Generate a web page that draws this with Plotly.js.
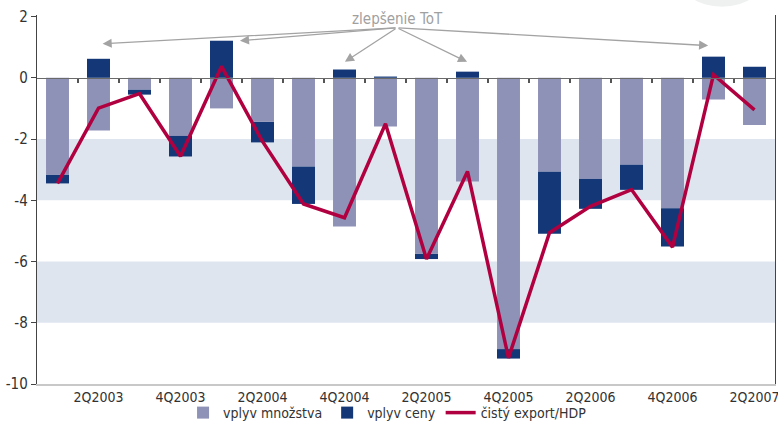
<!DOCTYPE html>
<html>
<head>
<meta charset="utf-8">
<script src="https://cdn.plot.ly/plotly-3.0.1.min.js"></script>
<style>html,body{margin:0;padding:0;background:#fff;}#chart{width:778px;height:426px;}</style>
</head>
<body>
<div id="chart"></div>
<script>
var quarters = ["1Q2003","2Q2003","3Q2003","4Q2003","1Q2004","2Q2004","3Q2004","4Q2004","1Q2005","2Q2005","3Q2005","4Q2005","1Q2006","2Q2006","3Q2006","4Q2006","1Q2007","2Q2007"];
var volumeEffect = [-3.17,-1.72,-0.39,-1.90,-1.00,-1.44,-2.90,-4.86,-1.59,-5.75,-3.39,-8.86,-3.07,-3.30,-2.84,-4.26,-0.71,-1.54];
var priceEffect = [-0.28,0.62,-0.16,-0.67,1.21,-0.67,-1.22,0.27,0.04,-0.17,0.20,-0.31,-2.02,-0.98,-0.82,-1.25,0.69,0.36];
var netExport = [-3.45,-0.99,-0.52,-2.56,0.37,-2.08,-4.12,-4.57,-1.50,-5.92,-3.06,-9.15,-5.06,-4.20,-3.65,-5.53,0.10,-1.05];
var xTickLabels = ["2Q2003","4Q2003","2Q2004","4Q2004","2Q2005","4Q2005","2Q2006","4Q2006","2Q2007"];
var yTickVals = [-10,-8,-6,-4,-2,0,2];
var yTickText = ["-10","-8","-6","-4","-2","0","2"];
var seriesNames = ["vplyv množstva","vplyv ceny","čistý export/HDP"];
var annotationText = "zlepšenie ToT";
var arrowTargets = [[1.1,1.11],[4.45,1.21],[7.01,0.52],[9.99,0.52],[15.87,1.05]];
var boundaryTicks = [];
for (var i = 0; i < quarters.length - 1; i++) boundaryTicks.push(i + 0.5);

var FONT = '"Liberation Sans Narrow","DejaVu Sans Condensed","Roboto Condensed",sans-serif';

var traces = [
  {type:'bar', x:quarters, y:volumeEffect, name:seriesNames[0], marker:{color:'#8f92b7'}, hoverinfo:'skip'},
  {type:'bar', x:quarters, y:priceEffect, name:seriesNames[1], marker:{color:'#143877'}, hoverinfo:'skip'},
  {type:'scatter', mode:'lines', x:quarters, y:netExport, name:seriesNames[2], line:{color:'#b1003f', width:3.5}, hoverinfo:'skip'},
  {type:'scatter', mode:'markers', x:[0], y:[0], xaxis:'x2', yaxis:'y', marker:{opacity:0}, showlegend:false, hoverinfo:'skip'}
];

var annotations = [{
  xref:'paper', yref:'paper', x:(397-37)/738, y:1 - (19-15.3)/368.7, xanchor:'center', yanchor:'middle',
  text:annotationText, showarrow:false, font:{family:FONT, size:15, color:'#a0a0a0'}
}];
arrowTargets.forEach(function(t){
  var tipPx = 57.5 + t[0]*41;
  var tipPy = 78 - t[1]*30.6;
  annotations.push({
    xref:'x', yref:'y', x:t[0], y:t[1], text:'', showarrow:true,
    ax: 397 - tipPx, ay: 28 - tipPy,
    arrowhead:2, arrowsize:1.4, arrowwidth:1.3, arrowcolor:'#a3a3a3', standoff:0
  });
});

var layout = {
  width:778, height:426,
  margin:{l:37, r:3, t:15, b:42, autoexpand:false},
  paper_bgcolor:'#fff', plot_bgcolor:'rgba(0,0,0,0)',
  barmode:'relative', bargap:0.44,
  font:{family:FONT, size:14, color:'#333'},
  showlegend:true,
  legend:{orientation:'h', x:0.475, xanchor:'center', yref:'container', y:(426-413)/426, yanchor:'middle',
          bgcolor:'rgba(0,0,0,0)', font:{family:FONT, size:14, color:'#333'}, itemwidth:30, tracegroupgap:0},
  xaxis:{type:'category', range:[-0.5,17.5], tickvals:xTickLabels, ticktext:xTickLabels, automargin:false,
         ticks:'', showline:true, linecolor:'#c8c8c8', linewidth:1.5, showgrid:false, zeroline:false,
         tickfont:{family:FONT, size:14, color:'#333'}, fixedrange:true},
  xaxis2:{overlaying:'x', anchor:'free', position:10/12.05, range:[-0.5,17.5], tickvals:boundaryTicks, automargin:false,
          ticks:'outside', ticklen:4, tickwidth:1.2, tickcolor:'#555', showticklabels:false,
          showline:true, linecolor:'#6a6a6a', linewidth:1.5, showgrid:false, zeroline:false, fixedrange:true},
  yaxis:{range:[-10,2.05], tickvals:yTickVals, ticktext:yTickText, ticks:'outside', ticklen:5, automargin:false,
         tickcolor:'#444', showline:true, linecolor:'#444', linewidth:1.2, mirror:true,
         showgrid:false, zeroline:false, tickfont:{family:FONT, size:15, color:'#333'}, fixedrange:true},
  shapes:[
    {type:'rect', xref:'paper', yref:'y', x0:0, x1:1, y0:-4, y1:-2, fillcolor:'#dfe5ef', line:{width:0}, layer:'below'},
    {type:'rect', xref:'paper', yref:'y', x0:0, x1:1, y0:-8, y1:-6, fillcolor:'#dfe5ef', line:{width:0}, layer:'below'},
    {type:'circle', xref:'paper', yref:'paper', x0:0.867, x1:0.989, y0:1.0225, y1:1.2, fillcolor:'#eff1f1', line:{width:0}, layer:'below'}
  ],
  annotations:annotations
};

Plotly.newPlot('chart', traces, layout, {staticPlot:true, displayModeBar:false});
</script>
</body>
</html>
